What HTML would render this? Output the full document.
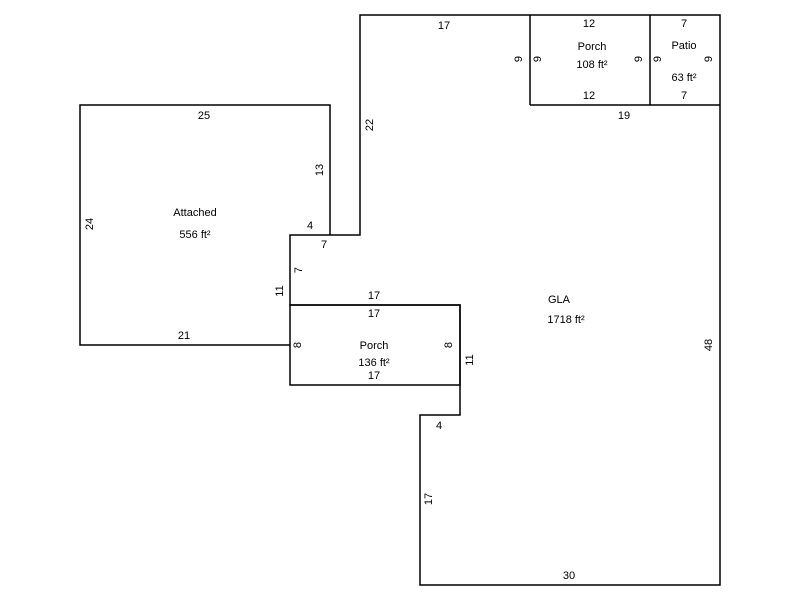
<!DOCTYPE html>
<html><head><style>html,body{margin:0;padding:0;background:#fff}svg{display:block}</style></head>
<body>
<svg width="800" height="600" xmlns="http://www.w3.org/2000/svg" font-family="Liberation Sans, Arial, sans-serif" font-size="11" fill="#000">
<g stroke="#000" stroke-width="1.5" fill="none">
<polygon points="360,15 720,15 720,585 420,585 420,415 460,415 460,305 290,305 290,235 360,235"/>
<line x1="530" y1="15" x2="530" y2="105"/>
<line x1="650" y1="15" x2="650" y2="105"/>
<line x1="530" y1="105" x2="720" y2="105"/>
<polyline points="290,345 80,345 80,105 330,105 330,235"/>
<rect x="290" y="305" width="170" height="80"/>
</g>
<g text-anchor="middle">
<text x="444" y="29">17</text>
<text x="589" y="27">12</text>
<text x="589" y="99">12</text>
<text x="684" y="27">7</text>
<text x="684" y="99">7</text>
<text x="624" y="119">19</text>
<text x="592" y="50">Porch</text>
<text x="592" y="68">108 ft²</text>
<text x="684" y="49">Patio</text>
<text x="684" y="81">63 ft²</text>
<text x="204" y="119">25</text>
<text x="195" y="216">Attached</text>
<text x="195" y="238">556 ft²</text>
<text x="310" y="229">4</text>
<text x="324" y="248">7</text>
<text x="184" y="339">21</text>
<text x="374" y="299">17</text>
<text x="374" y="317">17</text>
<text x="374" y="349">Porch</text>
<text x="374" y="366">136 ft²</text>
<text x="374" y="379">17</text>
<text x="559" y="303">GLA</text>
<text x="566" y="323">1718 ft²</text>
<text x="439" y="429">4</text>
<text x="569" y="579">30</text>
</g>
<g text-anchor="middle">
<text transform="translate(522,59) rotate(-90)">9</text>
<text transform="translate(541,59) rotate(-90)">9</text>
<text transform="translate(642,59) rotate(-90)">9</text>
<text transform="translate(661,59) rotate(-90)">9</text>
<text transform="translate(712,59) rotate(-90)">9</text>
<text transform="translate(373,125) rotate(-90)">22</text>
<text transform="translate(323,170) rotate(-90)">13</text>
<text transform="translate(93,224) rotate(-90)">24</text>
<text transform="translate(302,270) rotate(-90)">7</text>
<text transform="translate(283,291) rotate(-90)">11</text>
<text transform="translate(301,345) rotate(-90)">8</text>
<text transform="translate(452,345) rotate(-90)">8</text>
<text transform="translate(473,360) rotate(-90)">11</text>
<text transform="translate(712,345) rotate(-90)">48</text>
<text transform="translate(432,499) rotate(-90)">17</text>
</g>
</svg>
</body></html>
